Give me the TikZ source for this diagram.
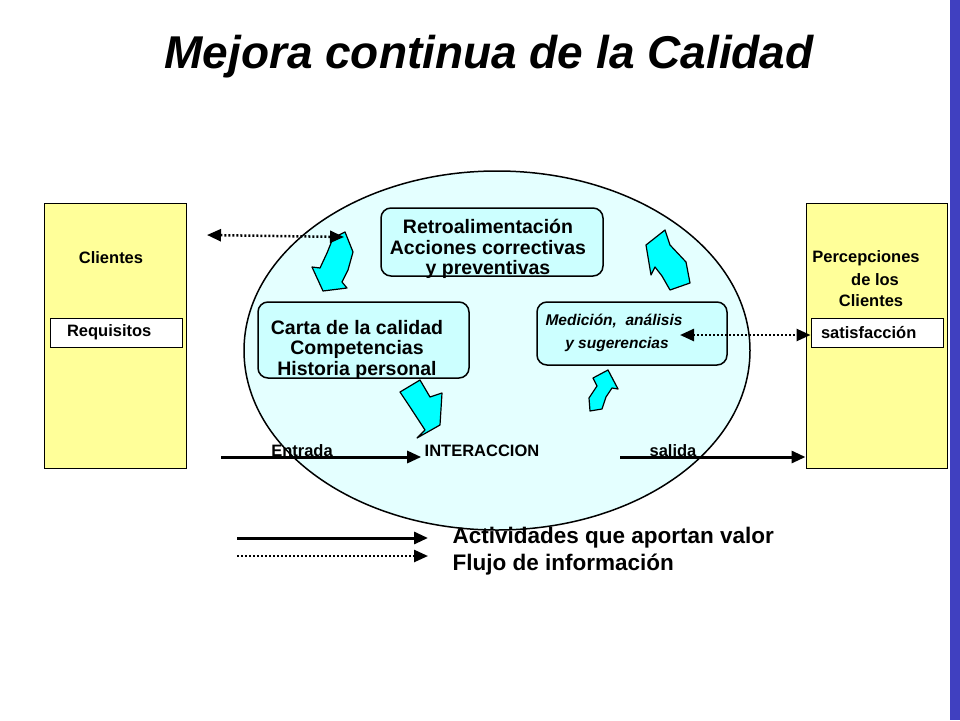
\documentclass[tikz,border=0pt]{standalone}
\usepackage{fontspec}
\setmainfont{Liberation Sans}
\usepackage{tikz}
\usetikzlibrary{shapes.geometric,arrows.meta}

\definecolor{amarillo}{RGB}{255,255,153}
\definecolor{celeste}{RGB}{228,255,255}
\definecolor{cajacel}{RGB}{204,255,255}
\definecolor{turquesa}{RGB}{0,255,255}
\definecolor{barra}{RGB}{64,64,192}
\newcommand{\chico}{\fontsize{16.5}{20}\selectfont\bfseries}
\newcommand{\medio}{\fontsize{19.5}{20.5}\selectfont\bfseries}

\begin{document}
\begin{tikzpicture}[x=1pt,y=-1pt,
	>={Triangle[length=14pt,width=12pt]},
	amarilla/.style={draw=black, line width=1pt, fill=amarillo, minimum width=142pt, minimum height=265pt},
	blanca/.style={draw=black, line width=1pt, fill=white, minimum height=29pt, align=left, font=\chico},
	proceso/.style={draw=black, line width=1.5pt, fill=cajacel, rounded corners=10pt},
	flecha/.style={draw=black, line width=1.2pt, fill=turquesa, line join=round},
	valor/.style={->, line width=3pt},
	info/.style={line width=2.5pt, dash pattern=on 2pt off 2pt}]
		\useasboundingbox[fill=white] (0,0) rectangle (960,720);
		\fill[barra] (950,0) rectangle (960,720);

		\node[font=\fontsize{46}{50}\selectfont\bfseries\itshape] (titulo) at (489,57) {Mejora continua de la Calidad};

		\node[amarilla] (izq) at (115,335.5) {};
		\node[amarilla, minimum width=141pt] (der) at (876.5,335.5) {};
		\node[font=\chico] (clientes) at (111,258) {Clientes};
		\node[blanca, text width=98pt, inner xsep=17pt] (requisitos) at (116,332.5) {Requisitos};
		\node[font=\chico] (percep) at (866,258) {Percepciones};
		\node[font=\chico] (delos) at (875,280) {de los};
		\node[font=\chico] (clientesb) at (871,301) {Clientes};
		\node[blanca, text width=112pt, inner xsep=10pt] (sat) at (877,332.5) {satisfacción};

		\node[ellipse, draw=black, line width=1.5pt, fill=celeste, minimum width=506pt, minimum height=359pt] (ciclo) at (497,350.5) {};

		\node[proceso, minimum width=222pt, minimum height=68pt] (retro) at (492,242) {};
		\node[align=center, font=\medio] (retrotxt) at (488,249) {Retroalimentación\\Acciones correctivas\\y preventivas};
		\node[proceso, minimum width=211pt, minimum height=76pt] (carta) at (363.5,340) {};
		\node[align=center, font=\medio] (cartatxt) at (357,349.5) {Carta de la calidad\\Competencias\\Historia personal};
		\node[proceso, minimum width=190pt, minimum height=63pt] (medicion) at (632,333.5) {};
		\node[align=center, font=\fontsize{15.5}{23}\selectfont\bfseries\itshape] (mediciontxt) at (614,332.5) {Medición,~ análisis\\\hspace*{6pt}y sugerencias};

		\draw[flecha] (333,238) -- (345,232) -- (353,252) -- (348,270) -- (342,282) -- (347,288) -- (323,291) -- (312,267) -- (320,268) -- (327,253) -- cycle;
		\draw[flecha] (400,392) -- (420,380) -- (430,397) -- (442,393) -- (440,425) -- (417,438) -- (425,430) -- (410,407) -- cycle;
		\draw[flecha] (590,411) -- (602,409) -- (606,397) -- (612,388) -- (618,389) -- (608,370) -- (593,378) -- (597,386) -- (589,398) -- cycle;
		\draw[flecha] (670,290) -- (690,283) -- (686,262) -- (670,245) -- (665,230) -- (646,245) -- (651,275) -- (655,267) -- (662,276) -- cycle;

		\node[font=\chico] (interaccion) at (482,451) {INTERACCION};
		\node[font=\chico] (entrada) at (302,451) {Entrada};
		\node[font=\chico] (salida) at (673,451) {salida};

		\coordinate (e0) at (221,457);
		\coordinate (s0) at (620,457);
		\draw[valor] (e0) -- (e0 -| interaccion.west);
		\draw[valor] (s0) -- (s0 -| der.west);

		\coordinate (d0) at (207,235);
		\coordinate (d1) at (344,237);
		\coordinate (d2) at (680,335);
		\draw[info, <->] (d0) -- (d1);
		\draw[info, <->] (d2) -- (d2 -| sat.west);

		\coordinate (l0) at (237,538);
		\coordinate (l1) at (428,538);
		\coordinate (l2) at (237,556);
		\coordinate (l3) at (428,556);
		\draw[valor] (l0) -- (l1);
		\draw[info, ->] (l2) -- (l3);
		\node[anchor=west, font=\fontsize{22.5}{24}\selectfont\bfseries] (actividades) at (449,538) {Actividades que aportan valor};
		\node[anchor=west, font=\fontsize{22.5}{24}\selectfont\bfseries] (flujo) at (449,565) {Flujo de información};
	\end{tikzpicture}
\end{document}
